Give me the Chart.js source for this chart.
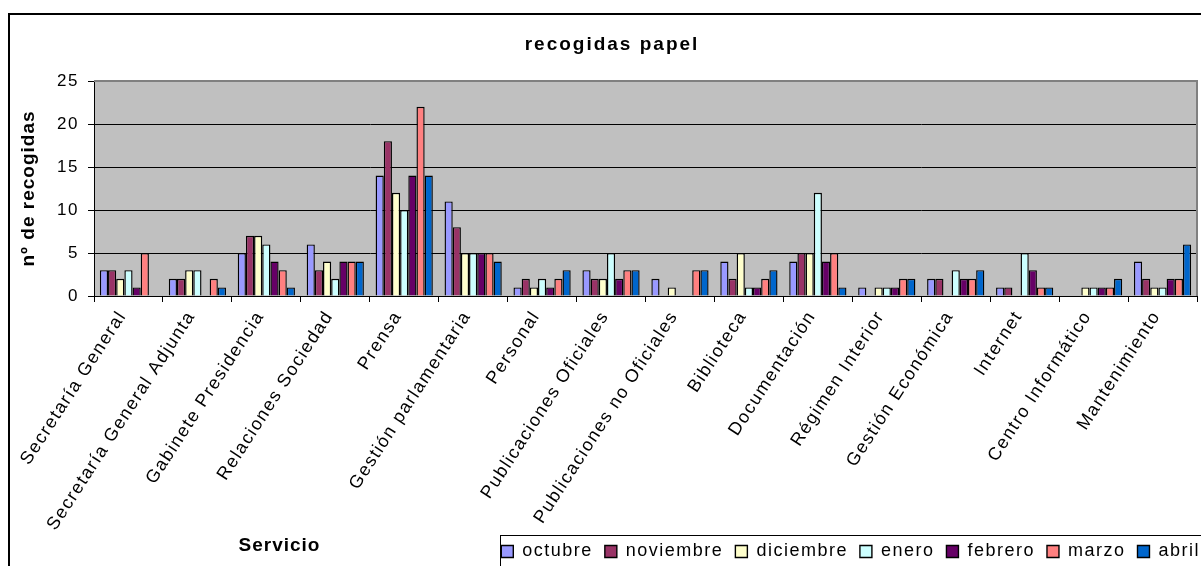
<!DOCTYPE html>
<html>
<head>
<meta charset="utf-8">
<script src="https://cdn.jsdelivr.net/npm/chart.js@4/dist/chart.umd.min.js"></script>
<style>
  body { margin: 0; background: #fff; }
  #wrap { width: 1201px; height: 566px; position: relative; }
</style>
</head>
<body>
<div id="wrap"><canvas id="papel"></canvas></div>
<script>
const servicios = [
    'Secretaría General', 'Secretaría General Adjunta', 'Gabinete Presidencia', 'Relaciones Sociedad',
    'Prensa', 'Gestión parlamentaria', 'Personal', 'Publicaciones Oficiales',
    'Publicaciones no Oficiales', 'Biblioteca', 'Documentación', 'Régimen Interior',
    'Gestión Económica', 'Internet', 'Centro Informático', 'Mantenimiento'
];
const octubre   = [3, 2, 5, 6, 14, 11, 1, 3, 2, 4, 4, 1, 2, 1, 0, 4];
const noviembre = [3, 2, 7, 3, 18, 8, 2, 2, 0, 2, 5, 0, 2, 1, 0, 2];
const diciembre = [2, 3, 7, 4, 12, 5, 1, 2, 1, 5, 5, 1, 0, 0, 1, 1];
const enero     = [3, 3, 6, 2, 10, 5, 2, 5, 0, 1, 12, 1, 3, 5, 1, 1];
const febrero   = [1, 0, 4, 4, 14, 5, 1, 2, 0, 1, 4, 1, 2, 3, 1, 2];
const marzo     = [5, 2, 3, 4, 22, 5, 2, 3, 3, 2, 5, 2, 2, 1, 1, 2];
const abril     = [0, 1, 1, 4, 14, 4, 3, 3, 3, 3, 1, 2, 3, 1, 2, 6];
const yTicks = [0, 5, 10, 15, 20, 25];

const FONT = '"Liberation Sans", Arial, sans-serif';
const SPACING = '1.5px';

function serie(label, data, color) {
    return {
        label: label,
        data: data,
        backgroundColor: color,
        borderColor: '#000',
        borderWidth: 1.4,
        borderSkipped: 'start',
        categoryPercentage: 0.83,
        barPercentage: 1.0
    };
}

function drawText(ctx, text, x, y, size, spacing, rotate) {
    ctx.save();
    ctx.font = 'bold ' + size + 'px ' + FONT;
    ctx.letterSpacing = spacing + 'px';
    ctx.fillStyle = '#000';
    ctx.textAlign = 'center';
    ctx.textBaseline = 'middle';
    ctx.translate(x, y);
    if (rotate) ctx.rotate(rotate);
    ctx.fillText(text, spacing / 2, 0);
    ctx.restore();
}

// excel look: grey plot area, frame, spaced text, titles placed by hand
const excelLook = {
    id: 'excelLook',
    beforeUpdate(chart) {
        chart.ctx.letterSpacing = SPACING;
    },
    afterLayout(chart) {
        chart.legend.left += 15;
        chart.legend.right += 15;
    },
    beforeDraw(chart) {
        const ctx = chart.ctx;
        const a = chart.chartArea;
        ctx.letterSpacing = SPACING;
        ctx.save();
        ctx.fillStyle = '#C0C0C0';
        ctx.fillRect(a.left, a.top, a.right - a.left, a.bottom - a.top);
        ctx.restore();
    },
    afterDatasetsDraw(chart) {
        const ctx = chart.ctx;
        const a = chart.chartArea;
        ctx.save();
        ctx.strokeStyle = '#808080';
        ctx.lineWidth = 2;
        ctx.beginPath();
        ctx.moveTo(a.left, a.top);
        ctx.lineTo(a.right, a.top);
        ctx.lineTo(a.right, a.bottom);
        ctx.stroke();
        ctx.restore();
    },
    afterDraw(chart) {
        const ctx = chart.ctx;
        ctx.save();
        ctx.letterSpacing = '0px';
        ctx.strokeStyle = '#000';
        ctx.lineWidth = 2;
        ctx.strokeRect(9, 14, 1230, 600);
        ctx.lineWidth = 1;
        ctx.strokeRect(500.5, 535.5, 760, 60);
        ctx.restore();
        drawText(ctx, 'recogidas papel', 611, 45, 19, 2, 0);
        drawText(ctx, 'nº de recogidas', 29, 189, 19, 1, -Math.PI / 2);
        drawText(ctx, 'Servicio', 279, 546, 19, 1, 0);
    }
};

const ctx = document.getElementById('papel').getContext('2d');
new Chart(ctx, {
    type: 'bar',
    data: {
        labels: servicios,
        datasets: [
            serie('octubre', octubre, '#9999FF'),
            serie('noviembre', noviembre, '#993366'),
            serie('diciembre', diciembre, '#FFFFCC'),
            serie('enero', enero, '#CCFFFF'),
            serie('febrero', febrero, '#660066'),
            serie('marzo', marzo, '#FF8080'),
            serie('abril', abril, '#0066CC')
        ]
    },
    options: {
        responsive: true,
        maintainAspectRatio: false,
        animation: false,
        layout: { padding: { top: 81, left: 0, right: 4, bottom: -4.5 } },
        plugins: {
            title: { display: false },
            tooltip: { enabled: false },
            legend: {
                position: 'bottom',
                align: 'end',
                labels: {
                    color: '#000',
                    font: { family: FONT, size: 18 },
                    boxWidth: 12,
                    boxHeight: 12,
                    padding: 12
                }
            }
        },
        scales: {
            x: {
                grid: {
                    offset: true,
                    drawOnChartArea: false,
                    drawTicks: true,
                    tickLength: 6,
                    tickColor: '#000'
                },
                border: { color: '#000', width: 1 },
                ticks: {
                    color: '#000',
                    font: { family: FONT, size: 18 },
                    autoSkip: false,
                    minRotation: 57,
                    maxRotation: 57,
                    labelOffset: -6,
                    padding: 5
                },
                afterFit(scale) { scale.height = 234.5; }
            },
            y: {
                min: 0,
                max: 25,
                afterBuildTicks(scale) {
                    scale.ticks = yTicks.map(v => ({ value: v }));
                },
                grid: {
                    color: c => (c.tick && c.tick.value === 25) ? '#808080' : '#000',
                    lineWidth: 1,
                    tickLength: 6,
                    tickColor: '#000'
                },
                border: { color: '#000', width: 1 },
                ticks: {
                    color: '#000',
                    font: { family: FONT, size: 17 },
                    padding: 9
                },
                afterFit(scale) { scale.width = 94; }
            }
        }
    },
    plugins: [excelLook]
});
</script>
</body>
</html>
